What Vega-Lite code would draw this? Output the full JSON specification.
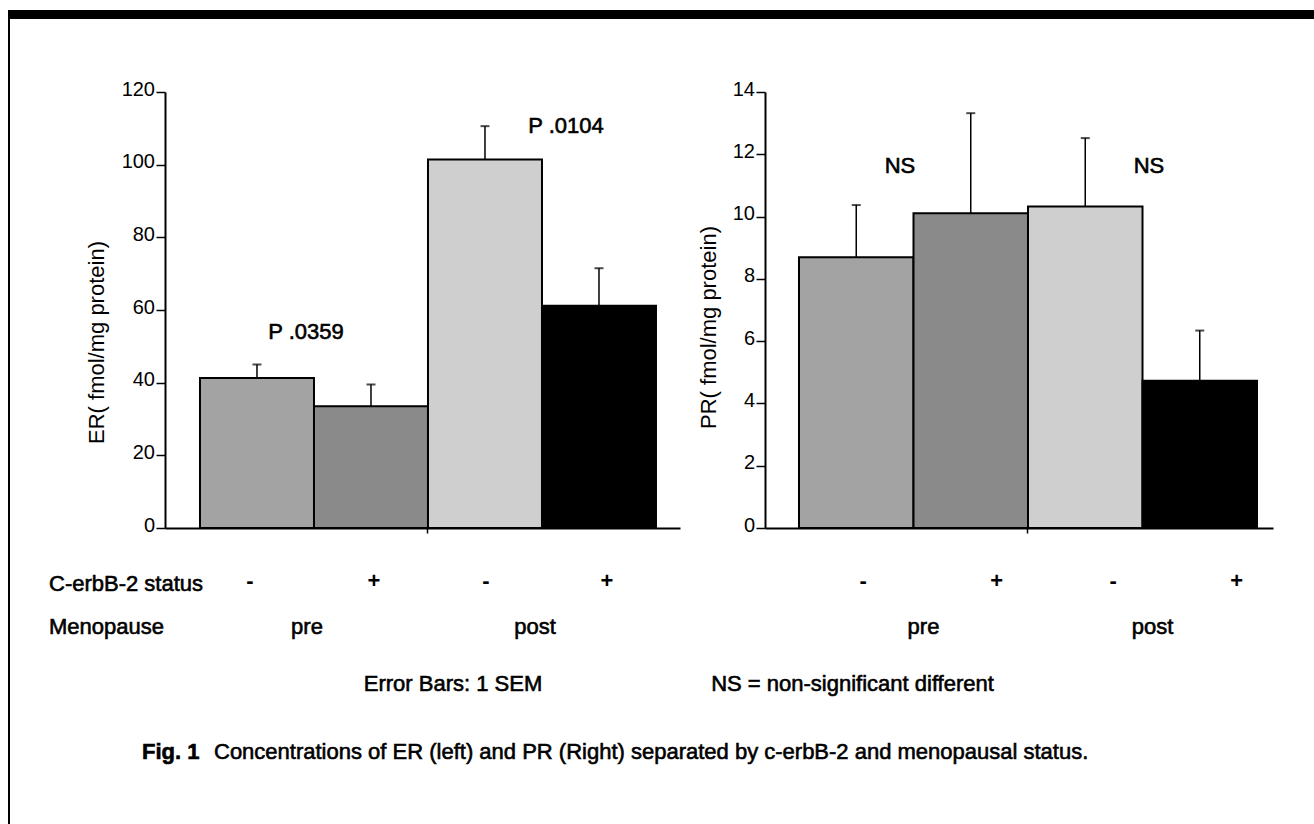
{
  "$schema": "https://vega.github.io/schema/vega-lite/v6.json",
  "background": "white",
  "autosize": {"type": "pad"},
  "padding": {"left": 8, "top": 10, "right": 0, "bottom": 0},
  "config": {
    "font": "Liberation Sans",
    "view": {"stroke": null},
    "axis": {"labelFont": "Liberation Sans", "titleFont": "Liberation Sans", "grid": false},
    "text": {"font": "Liberation Sans", "fontSize": 22, "fill": "black", "stroke": "black", "strokeWidth": 0.6, "fontWeight": "normal", "baseline": "alphabetic"}
  },
  "datasets": {
    "er": [
      {"menopause": "pre", "status": "-", "grp": "pre-", "mean": 41.3, "hi": 45.0},
      {"menopause": "pre", "status": "+", "grp": "pre+", "mean": 33.5, "hi": 39.5},
      {"menopause": "post", "status": "-", "grp": "post-", "mean": 101.4, "hi": 110.6},
      {"menopause": "post", "status": "+", "grp": "post+", "mean": 61.2, "hi": 71.5}
    ],
    "pr": [
      {"menopause": "pre", "status": "-", "grp": "pre-", "mean": 8.69, "hi": 10.37},
      {"menopause": "pre", "status": "+", "grp": "pre+", "mean": 10.11, "hi": 13.32},
      {"menopause": "post", "status": "-", "grp": "post-", "mean": 10.32, "hi": 12.52},
      {"menopause": "post", "status": "+", "grp": "post+", "mean": 4.73, "hi": 6.34}
    ]
  },
  "bounds": "flush",
  "spacing": 0,
  "vconcat": [
    {"width": 1310, "height": 9, "view": {"fill": "black", "stroke": null}, "data": {"values": []}, "mark": "rect", "encoding": {}},
    {
      "bounds": "flush",
      "spacing": 155,
      "hconcat": [
        {"width": 2, "height": 810, "view": {"fill": "black", "stroke": null}, "data": {"values": []}, "mark": "rect", "encoding": {}},
        {
          "bounds": "flush",
          "spacing": 0,
          "vconcat": [
            {"width": 10, "height": 73, "data": {"values": []}, "mark": "rect", "encoding": {}},
            {
              "bounds": "flush",
              "spacing": 85,
              "hconcat": [
                {
                  "width": 515,
                  "height": 436,
                  "data": {"name": "er"},
                  "encoding": {
                    "x": {
                      "field": "grp", "type": "nominal",
                      "scale": {"domain": ["pre-", "pre+", "post-", "post+"], "paddingInner": 0, "paddingOuter": 0.2588, "align": 0.593},
                      "axis": {
                        "title": null,
                        "bandPosition": 0, "domainColor": "black", "domainWidth": 2,
                        "tickColor": "black", "tickWidth": 1.5, "tickSize": 5,
                        "tickOpacity": {"condition": {"test": "datum.value === 'post-'", "value": 1}, "value": 0},
                        "labelExpr": "indexof(datum.value, '+') >= 0 ? '+' : '-'",
                        "labelAngle": 0, "labelAlign": "center", "labelBaseline": "middle", "labelPadding": 47,
                        "labelFontSize": 22, "labelFontWeight": "bold", "labelColor": "black", "labelOverlap": false,
                        "labelOffset": {"condition": [{"test": "datum.value === 'pre-'", "value": -7}, {"test": "datum.value === 'pre+'", "value": 3}, {"test": "datum.value === 'post-'", "value": 1}], "value": 8}
                      }
                    }
                  },
                  "layer": [
                    {
                      "mark": {"type": "bar", "stroke": "black", "strokeWidth": 2},
                      "encoding": {
                        "y": {
                          "field": "mean", "type": "quantitative",
                          "scale": {"domain": [0, 120], "nice": false},
                          "axis": {
                            "title": "ER( fmol/mg protein)", "titleFontSize": 22, "titleFontWeight": "normal", "titleColor": "black", "titlePadding": 13, "titleY": 250,
                            "values": [0, 10, 20, 30, 40, 50, 60, 70, 80, 90, 100, 110, 120],
                            "labelExpr": "datum.value % 20 === 0 ? datum.label : ''",
                            "labelFontSize": 20, "labelColor": "black", "labelBaseline": "alphabetic", "labelOffset": 3, "labelPadding": 1.5,
                            "labelOverlap": false, "labelFlush": false,
                            "tickSize": {"condition": {"test": "datum.value % 20 === 0", "value": 9}, "value": 4},
                            "tickColor": "black", "tickWidth": 1.5, "domainColor": "black", "domainWidth": 2
                          }
                        },
                        "fill": {"field": "grp", "type": "nominal", "scale": {"domain": ["pre-", "pre+", "post-", "post+"], "range": ["#a3a3a3", "#8a8a8a", "#cfcfcf", "#000000"]}, "legend": null}
                      }
                    },
                    {
                      "mark": {"type": "rule", "color": "black", "strokeWidth": 1.5},
                      "encoding": {"y": {"field": "mean", "type": "quantitative"}, "y2": {"field": "hi"}}
                    },
                    {
                      "mark": {"type": "tick", "orient": "horizontal", "size": 9, "thickness": 2, "color": "black"},
                      "encoding": {"y": {"field": "hi", "type": "quantitative"}}
                    },
                    {
                      "transform": [{"filter": "datum.status === '-'"}],
                      "mark": {"type": "text", "dx": -7},
                      "encoding": {
                        "x": {"field": "grp", "type": "nominal", "bandPosition": 1},
                        "y": {"datum": -29.2, "type": "quantitative"},
                        "text": {"field": "menopause"}
                      }
                    },
                    {
                      "data": {"values": [{"label": "C-erbB-2 status"}]},
                      "mark": {"type": "text", "align": "left", "dx": -151},
                      "encoding": {"x": {"datum": "pre-", "type": "nominal", "bandPosition": 0}, "y": {"datum": -17.3, "type": "quantitative"}, "text": {"field": "label"}}
                    },
                    {
                      "data": {"values": [{"label": "Menopause"}]},
                      "mark": {"type": "text", "align": "left", "dx": -151},
                      "encoding": {"x": {"datum": "pre-", "type": "nominal", "bandPosition": 0}, "y": {"datum": -29.2, "type": "quantitative"}, "text": {"field": "label"}}
                    },
                    {
                      "data": {"values": [{"label": "P .0359"}]},
                      "mark": {"type": "text", "dx": -8},
                      "encoding": {"x": {"datum": "pre-", "type": "nominal", "bandPosition": 1}, "y": {"datum": 52.0, "type": "quantitative"}, "text": {"field": "label"}}
                    },
                    {
                      "data": {"values": [{"label": "P .0104"}]},
                      "mark": {"type": "text", "dx": 24},
                      "encoding": {"x": {"datum": "post-", "type": "nominal", "bandPosition": 1}, "y": {"datum": 108.7, "type": "quantitative"}, "text": {"field": "label"}}
                    },
                    {
                      "data": {"values": [{"label": "Error Bars: 1 SEM"}]},
                      "mark": {"type": "text", "dx": 25},
                      "encoding": {"x": {"datum": "post-", "type": "nominal", "bandPosition": 0}, "y": {"datum": -44.9, "type": "quantitative"}, "text": {"field": "label"}}
                    },
                    {
                      "data": {"values": [{"label": "Fig. 1"}]},
                      "mark": {"type": "text", "align": "left", "fontWeight": "bold", "dx": -58},
                      "encoding": {"x": {"datum": "pre-", "type": "nominal", "bandPosition": 0}, "y": {"datum": -63.6, "type": "quantitative"}, "text": {"field": "label"}}
                    },
                    {
                      "data": {"values": [{"label": "Concentrations of ER (left) and PR (Right) separated by c-erbB-2 and menopausal status."}]},
                      "mark": {"type": "text", "align": "left", "dx": 14},
                      "encoding": {"x": {"datum": "pre-", "type": "nominal", "bandPosition": 0}, "y": {"datum": -63.6, "type": "quantitative"}, "text": {"field": "label"}}
                    }
                  ]
                },
                {
                  "width": 508,
                  "height": 436,
                  "data": {"name": "pr"},
                  "encoding": {
                    "x": {
                      "field": "grp", "type": "nominal",
                      "scale": {"domain": ["pre-", "pre+", "post-", "post+"], "paddingInner": 0, "paddingOuter": 0.2183, "align": 0.68},
                      "axis": {
                        "title": null,
                        "bandPosition": 0, "domainColor": "black", "domainWidth": 2,
                        "tickColor": "black", "tickWidth": 1.5, "tickSize": 5,
                        "tickOpacity": {"condition": {"test": "datum.value === 'post-'", "value": 1}, "value": 0},
                        "labelExpr": "indexof(datum.value, '+') >= 0 ? '+' : '-'",
                        "labelAngle": 0, "labelAlign": "center", "labelBaseline": "middle", "labelPadding": 47,
                        "labelFontSize": 22, "labelFontWeight": "bold", "labelColor": "black", "labelOverlap": false,
                        "labelOffset": {"condition": [{"test": "datum.value === 'pre-'", "value": 7}, {"test": "datum.value === 'pre+'", "value": 26}, {"test": "datum.value === 'post-'", "value": 28}], "value": 37}
                      }
                    }
                  },
                  "layer": [
                    {
                      "mark": {"type": "bar", "stroke": "black", "strokeWidth": 2},
                      "encoding": {
                        "y": {
                          "field": "mean", "type": "quantitative",
                          "scale": {"domain": [0, 14], "nice": false},
                          "axis": {
                            "title": "PR( fmol/mg protein)", "titleFontSize": 22, "titleFontWeight": "normal", "titleColor": "black", "titlePadding": 12, "titleY": 235,
                            "values": [0, 1, 2, 3, 4, 5, 6, 7, 8, 9, 10, 11, 12, 13, 14],
                            "labelExpr": "datum.value % 2 === 0 ? datum.label : ''",
                            "labelFontSize": 20, "labelColor": "black", "labelBaseline": "alphabetic", "labelOffset": 3, "labelPadding": 1.5,
                            "labelOverlap": false, "labelFlush": false,
                            "tickSize": {"condition": {"test": "datum.value % 2 === 0", "value": 9}, "value": 4},
                            "tickColor": "black", "tickWidth": 1.5, "domainColor": "black", "domainWidth": 2
                          }
                        },
                        "fill": {"field": "grp", "type": "nominal", "scale": {"domain": ["pre-", "pre+", "post-", "post+"], "range": ["#a3a3a3", "#8a8a8a", "#cfcfcf", "#000000"]}, "legend": null}
                      }
                    },
                    {
                      "mark": {"type": "rule", "color": "black", "strokeWidth": 1.5},
                      "encoding": {"y": {"field": "mean", "type": "quantitative"}, "y2": {"field": "hi"}}
                    },
                    {
                      "mark": {"type": "tick", "orient": "horizontal", "size": 9, "thickness": 2, "color": "black"},
                      "encoding": {"y": {"field": "hi", "type": "quantitative"}}
                    },
                    {
                      "transform": [{"filter": "datum.status === '-'"}],
                      "mark": {"type": "text", "dx": 10},
                      "encoding": {
                        "x": {"field": "grp", "type": "nominal", "bandPosition": 1},
                        "y": {"datum": -3.40, "type": "quantitative"},
                        "text": {"field": "menopause"}
                      }
                    },
                    {
                      "data": {"values": [{"label": "NS"}]},
                      "mark": {"type": "text", "dx": -13.5},
                      "encoding": {"x": {"datum": "pre-", "type": "nominal", "bandPosition": 1}, "y": {"datum": 11.40, "type": "quantitative"}, "text": {"field": "label"}}
                    },
                    {
                      "data": {"values": [{"label": "NS"}]},
                      "mark": {"type": "text", "dx": 6.5},
                      "encoding": {"x": {"datum": "post-", "type": "nominal", "bandPosition": 1}, "y": {"datum": 11.40, "type": "quantitative"}, "text": {"field": "label"}}
                    },
                    {
                      "data": {"values": [{"label": "NS = non-significant different"}]},
                      "mark": {"type": "text", "dx": 53.5},
                      "encoding": {"x": {"datum": "pre-", "type": "nominal", "bandPosition": 0}, "y": {"datum": -5.23, "type": "quantitative"}, "text": {"field": "label"}}
                    }
                  ]
                }
              ]
            }
          ]
        }
      ]
    }
  ]
}
